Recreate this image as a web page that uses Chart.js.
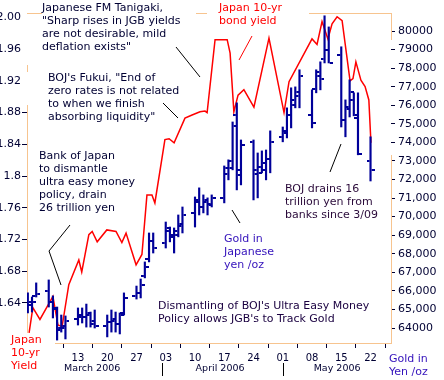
<!DOCTYPE html>
<html>
<head>
<meta charset="utf-8">
<script src="https://cdn.jsdelivr.net/npm/chart.js@4.4.0/dist/chart.umd.min.js"></script>
<style>
  html, body { margin: 0; padding: 0; background: #fff; }
  #wrap { width: 444px; height: 380px; position: relative; }
</style>
</head>
<body>
<div id="wrap"><canvas id="chart"></canvas></div>
<script>
// day numbers count from 1 March 2006 (= 0)
const yieldDays = [0.3, 1.2, 2.9, 6.0, 7.2, 8.2, 9.8, 12.2, 12.9, 14.6, 15.4, 16.6, 18.9, 21.1, 22.5, 23.5,
  25.9, 27.3, 28.5, 29.7, 30.4, 32.8, 33.8, 35.0, 37.6, 39.3, 41.2, 42.4, 42.9, 44.8, 47.7, 48.4, 49.3,
  50.3, 51.7, 54.1, 57.7, 61.3, 62.5, 68.0, 69.2, 70.4, 71.1, 71.8, 72.8, 74.0, 75.2, 77.1, 77.8, 78.5,
  79.7, 80.7, 81.6, 82.1]
const yieldValues = [1.602, 1.634, 1.619, 1.648, 1.612, 1.610, 1.663, 1.694, 1.679, 1.726, 1.730, 1.717,
  1.732, 1.730, 1.716, 1.728, 1.688, 1.701, 1.776, 1.776, 1.766, 1.846, 1.847, 1.842, 1.873, 1.877, 1.881,
  1.882, 1.880, 1.972, 1.972, 1.955, 1.881, 1.902, 1.909, 1.887, 1.974, 1.880, 1.919, 1.973, 1.966, 1.995,
  1.984, 1.973, 1.992, 2.001, 1.996, 1.920, 1.923, 1.944, 1.921, 1.913, 1.896, 1.842]

const goldDays = [0, 1, 2, 5, 6, 7, 8, 9, 12, 13, 14, 15, 16, 19, 20, 21, 22, 23, 26, 27, 28, 29, 30,
  33, 34, 35, 36, 37, 40, 41, 42, 43, 44, 47, 48, 49, 50, 51, 54, 55, 56, 57, 58, 61, 62, 63, 64, 65,
  68, 69, 70, 71, 72, 75, 76, 77, 78, 79, 82]
const goldHigh = [65890, 65670, 66430, 66590, 65730, 65130, 64700, 64650, 65080, 65080, 65290, 64860, 64970,
  64700, 64970, 64860, 64810, 65890, 66260, 66640, 67560, 69120, 69120, 69710, 69440, 69390, 70090, 70520,
  71060, 71550, 71170, 71010, 71170, 72730, 73060, 75100, 76130, 74130, 74130, 73430, 73540, 73590, 74620,
  74830, 75860, 76940, 76990, 77910, 76830, 77910, 78340, 80820, 80220, 79150, 76290, 77370, 76670, 76670, 74300]
const goldLow = [64810, 64860, 65670, 65130, 64540, 63350, 63780, 63410, 64160, 64270, 64050, 64050, 64000,
  63520, 63780, 63780, 63680, 64700, 65560, 65620, 66700, 67560, 68040, 68310, 68640, 68040, 68910, 69120,
  69440, 70090, 70200, 70090, 70520, 70740, 71980, 72520, 71440, 71710, 70900, 71010, 72360, 71980, 72360,
  74030, 74240, 74780, 75860, 75860, 74780, 76670, 76830, 78280, 78280, 74830, 74300, 75370, 75430, 73330, 71920]
const goldOpen = [65300, 65250, 65700, 66000, 65400, 65000, 63900, 64000, 64500, 64600, 64600, 64700, 64200,
  64100, 64300, 64400, 64200, 64800, 65700, 65900, 66800, 67700, 68700, 68600, 69200, 68900, 69200, 69500,
  70200, 70900, 70500, 70800, 70700, 71000, 72300, 73000, 75500, 72500, 74000, 72500, 72700, 72500, 73100,
  74300, 74600, 75500, 76300, 76500, 75500, 76900, 77800, 78500, 79000, 78700, 75200, 75900, 76300, 75300, 73000]
const goldClose = [65400, 65400, 65850, 65400, 65100, 64000, 64100, 64400, 64700, 64600, 64800, 64400, 64100,
  64300, 64500, 64200, 64700, 65600, 65900, 66300, 67300, 68700, 68300, 69400, 69000, 69000, 69600, 70100,
  70800, 70500, 70900, 70600, 71000, 72600, 72600, 74900, 72250, 73860, 72300, 72350, 72900, 73100, 74000,
  74500, 75500, 76000, 76700, 77600, 75050, 77600, 77400, 79000, 78300, 75200, 75800, 76700, 75500, 73400, 72500]

const xTickDays = [12, 19, 26, 33, 40, 47, 54, 61, 68, 75, 82]
const xTickLabels = ["13", "20", "27", "03", "10", "17", "24", "01", "08", "15", "22"]
const yieldTicks = [1.64, 1.68, 1.72, 1.76, 1.80, 1.84, 1.88, 1.92, 1.96, 2.00]
const yieldTickLabels = ["1.64", "1.68", "1.72", "1.76", "1.8", "1.84", "1.88", "1.92", "1.96", "2.00"]
const goldTicks = [64000, 65000, 66000, 67000, 68000, 69000, 70000, 71000, 72000, 73000, 74000, 75000,
  76000, 77000, 78000, 79000, 80000]
const goldTickLabels = ["64000", "65,000", "66,000", "67,000", "68,000", "69,000", "70,000", "71,000",
  "72,000", "73,000", "74,000", "75,000", "76,000", "77,000", "78,000", "79000", "80000"]
const months = ["March 2006", "April 2006", "May 2006"]
const monthMid = [15.4, 46, 74]
const monthBreaks = [32.1, 61]

Chart.defaults.font.family = '"DejaVu Sans", Verdana, sans-serif'
Chart.defaults.font.size = 11

const NAVY = "#000033"
const BLUE = "#000099"
const RED = "#ff0000"
const FRAME = "#f7c48f"

// open tick sits left of the bar, close tick right of it
function tickImage(left) {
  const c = document.createElement("canvas")
  c.width = 8
  c.height = 2
  const g = c.getContext("2d")
  g.fillStyle = BLUE
  g.fillRect(left ? 0 : 5, 0, 3, 2)
  return c
}

const notes = [
  { x: 42, y: 8, color: NAVY, lines: ["Japanese FM Tanigaki,", "\"Sharp rises in JGB yields", "are not desirable, mild", "deflation exists\""] },
  { x: 48, y: 78, color: NAVY, lines: ["BOJ's Fukui, \"End of", "zero rates is not related", "to when we finish", "absorbing liquidity\""] },
  { x: 39, y: 156, color: NAVY, lines: ["Bank of Japan", "to dismantle", "ultra easy money", "policy, drain", "26 trillion yen"] },
  { x: 219, y: 8, color: RED, lines: ["Japan 10-yr", "bond yield"] },
  { x: 224, y: 239, color: "#3311bb", lines: ["Gold in", "Japanese", "yen /oz"] },
  { x: 285, y: 189, color: "#2a0a3a", lines: ["BOJ drains 16", "trillion yen from", "banks since 3/09"] },
  { x: 158, y: 306, color: "#1a0040", lines: ["Dismantling of BOJ's Ultra Easy Money", "Policy allows JGB's to Track Gold"] },
  { x: 11, y: 340, color: RED, lines: ["Japan", "10-yr", "Yield"] },
  { x: 389, y: 359, color: "#3311bb", lines: ["Gold in", "Yen /oz"] },
]
const leaders = [
  { color: "#000", pts: [[176, 47], [200, 77]] },
  { color: "#000", pts: [[163, 103], [178, 118]] },
  { color: "#000", pts: [[70, 225], [49, 251], [61, 285]] },
  { color: RED, pts: [[239, 60], [252, 36]] },
  { color: "#000", pts: [[232, 210], [240, 223]] },
  { color: "#000", pts: [[330, 172], [341, 144]] },
]

const overlay = {
  id: "overlay",
  beforeDatasetsDraw(chart) {
    const ctx = chart.ctx
    const a = chart.chartArea
    ctx.save()
    ctx.strokeStyle = FRAME
    ctx.lineWidth = 1
    const seg = (x1, y1, x2, y2) => {
      ctx.beginPath(); ctx.moveTo(x1, y1); ctx.lineTo(x2, y2); ctx.stroke()
    }
    // frame is broken where the notes and labels sit on it
    const t = a.top + 0.5, b = a.bottom + 0.5, l = a.left + 0.5, r = a.right + 0.5
    seg(a.left, t, 42, t); seg(196, t, 207, t); seg(309, t, a.right + 1, t)
    seg(l, 65, l, 72); seg(l, 105, l, 333)
    seg(r, a.top, r, 40); seg(r, 155, r, a.bottom + 1)
    seg(55, b, a.right + 1, b)
    ctx.restore()
  },
  afterDraw(chart) {
    const ctx = chart.ctx
    const xs = chart.scales.x
    ctx.save()
    ctx.font = '11px "DejaVu Sans"'
    ctx.textBaseline = "middle"
    ctx.textAlign = "left"
    notes.forEach(n => {
      ctx.fillStyle = n.color
      n.lines.forEach((s, i) => ctx.fillText(s, n.x, n.y + i * 13))
    })
    ctx.lineWidth = 1
    leaders.forEach(ld => {
      ctx.strokeStyle = ld.color
      ctx.beginPath()
      ld.pts.forEach((p, i) => i ? ctx.lineTo(p[0], p[1]) : ctx.moveTo(p[0], p[1]))
      ctx.stroke()
    })
    // month names under the day ticks
    ctx.font = '9.5px "DejaVu Sans"'
    ctx.textAlign = "center"
    ctx.fillStyle = NAVY
    months.forEach((m, i) => ctx.fillText(m, xs.getPixelForValue(monthMid[i]), 369))
    ctx.strokeStyle = "#000"
    monthBreaks.forEach(d => {
      const px = Math.round(xs.getPixelForValue(d)) + 0.5
      ctx.beginPath(); ctx.moveTo(px, 363); ctx.lineTo(px, 376); ctx.stroke()
    })
    ctx.restore()
  }
}

new Chart(document.getElementById("chart"), {
  type: "bar",
  data: {
    datasets: [
      {
        type: "bar",
        label: "Gold",
        data: goldDays.map((d, i) => ({ x: d, y: [goldLow[i], goldHigh[i]] })),
        yAxisID: "yR",
        backgroundColor: BLUE,
        barThickness: 1.5,
        grouped: false,
        order: 0,
      },
      {
        type: "scatter",
        label: "Open",
        data: goldDays.map((d, i) => ({ x: d, y: goldOpen[i] })),
        yAxisID: "yR",
        pointStyle: tickImage(true),
        pointRadius: 3,
        order: 0,
      },
      {
        type: "scatter",
        label: "Close",
        data: goldDays.map((d, i) => ({ x: d, y: goldClose[i] })),
        yAxisID: "yR",
        pointStyle: tickImage(false),
        pointRadius: 3,
        order: 0,
      },
      {
        type: "line",
        label: "Yield",
        data: yieldDays.map((d, i) => ({ x: d, y: yieldValues[i] })),
        yAxisID: "yL",
        borderColor: RED,
        borderWidth: 1.5,
        pointRadius: 0,
        tension: 0,
        order: 1,
      },
    ],
  },
  options: {
    responsive: true,
    maintainAspectRatio: false,
    animation: false,
    layout: { padding: { top: 13, left: 0, right: 0, bottom: 0 } },
    plugins: { legend: { display: false }, tooltip: { enabled: false } },
    scales: {
      x: {
        type: "linear",
        position: "bottom",
        min: -0.2,
        max: 86.9,
        offset: false,
        afterFit: (s) => { s.height = 37 },
        afterBuildTicks: (s) => { s.ticks = xTickDays.map(v => ({ value: v })) },
        ticks: {
          autoSkip: false,
          maxRotation: 0,
          padding: 4,
          color: NAVY,
          font: { size: 10 },
          callback: (v, i) => xTickLabels[i],
        },
        grid: { drawOnChartArea: false, tickLength: 5, tickColor: NAVY },
        border: { display: false },
      },
      yL: {
        type: "linear",
        position: "left",
        min: 1.5893,
        max: 2.0057,
        afterFit: (s) => { s.width = 27 },
        afterBuildTicks: (s) => { s.ticks = yieldTicks.map(v => ({ value: v })) },
        ticks: {
          padding: 1,
          color: NAVY,
          callback: (v, i) => yieldTickLabels[i],
        },
        grid: {
          drawOnChartArea: false,
          tickLength: 5,
          tickColor: (c) => (c.tick && c.tick.value > 1.9 ? "rgba(0,0,0,0)" : NAVY),
        },
        border: { display: false },
      },
      yR: {
        type: "linear",
        position: "right",
        min: 63192,
        max: 80970,
        afterFit: (s) => { s.width = 53 },
        afterBuildTicks: (s) => { s.ticks = goldTicks.map(v => ({ value: v })) },
        ticks: {
          padding: 3,
          color: NAVY,
          callback: (v, i) => goldTickLabels[i],
        },
        grid: { drawOnChartArea: false, tickLength: 4, tickColor: NAVY },
        border: { display: false },
      },
    },
  },
  plugins: [overlay],
})
</script>
</body>
</html>
